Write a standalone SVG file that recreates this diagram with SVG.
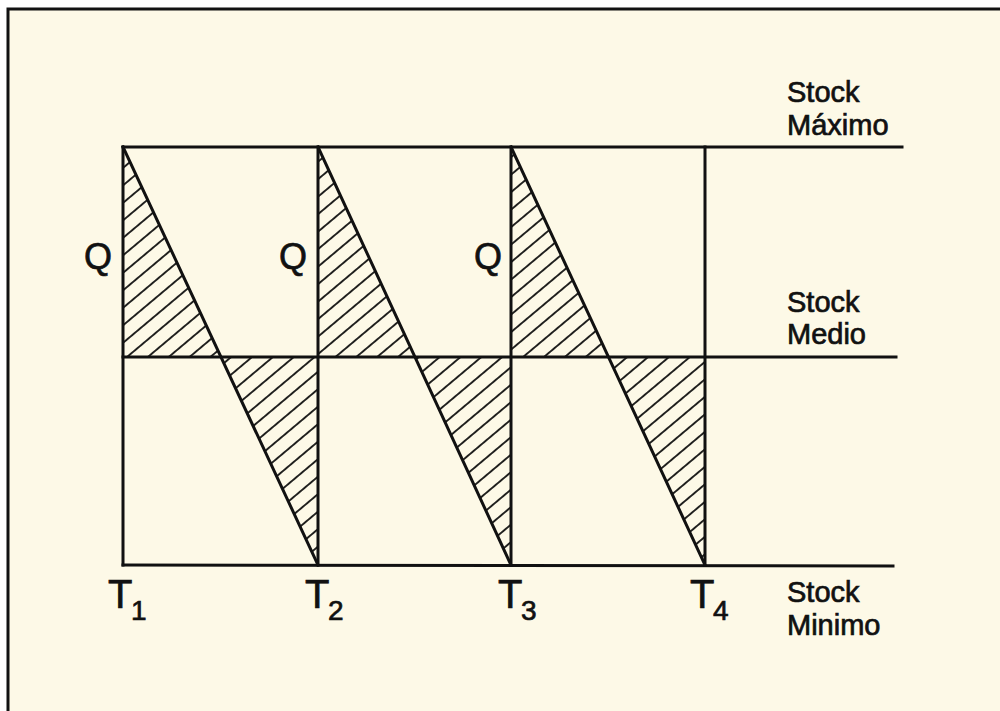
<svg xmlns="http://www.w3.org/2000/svg" width="1000" height="711" viewBox="0 0 1000 711">
<defs>
<pattern id="hatch" patternUnits="userSpaceOnUse" width="20" height="13.4" patternTransform="rotate(-40)">
<line x1="-2" y1="6.7" x2="22" y2="6.7" stroke="#111" stroke-width="1.8"/>
</pattern>
<style>
.ln{stroke:#111;stroke-width:3;fill:none;stroke-linecap:square}
.hz{fill:url(#hatch);stroke:none}
.lbl{font-family:"Liberation Sans",Arial,sans-serif;fill:#111;stroke:#111;stroke-width:0.7}
.side{font-size:29px}
.q{font-size:36px}
.t{font-size:40px}
.sub{font-size:28px}
</style>
</defs>
<rect x="0" y="0" width="1000" height="711" fill="#ffffff"/>
<rect x="8" y="9" width="1000" height="710" fill="#fdf9e7"/>
<path d="M8 711 V9 H1000" stroke="#111" stroke-width="3" fill="none"/>

<g id="hatches">
<polygon class="hz" points="123,147 123,357 221,357"/>
<polygon class="hz" points="221,357 318,357 318,565"/>
<polygon class="hz" points="318,147 318,357 416,357"/>
<polygon class="hz" points="416,357 511,357 511,565"/>
<polygon class="hz" points="511,147 511,357 609,357"/>
<polygon class="hz" points="609,357 705,357 705,565"/>
</g>

<g id="connectors">
<line class="ln" x1="123" y1="147" x2="902" y2="147"/>
<line class="ln" x1="123" y1="357" x2="896" y2="357"/>
<line class="ln" x1="123" y1="565" x2="893" y2="566"/>
<line class="ln" x1="123" y1="147" x2="123" y2="565"/>
<line class="ln" x1="318" y1="147" x2="318" y2="565"/>
<line class="ln" x1="511" y1="147" x2="511" y2="565"/>
<line class="ln" x1="705" y1="147" x2="705" y2="565"/>
<line class="ln" x1="123" y1="147" x2="318" y2="565"/>
<line class="ln" x1="318" y1="147" x2="511" y2="565"/>
<line class="ln" x1="511" y1="147" x2="705" y2="565"/>
</g>

<g id="label-max"><text class="lbl side" x="787" y="102">Stock</text><text class="lbl side" x="787" y="135">Máximo</text></g>
<g id="label-medio"><text class="lbl side" x="787" y="312">Stock</text><text class="lbl side" x="787" y="344">Medio</text></g>
<g id="label-min"><text class="lbl side" x="787" y="602">Stock</text><text class="lbl side" x="787" y="635">Minimo</text></g>

<g id="q1"><text class="lbl q" x="84" y="269">Q</text></g>
<g id="q2"><text class="lbl q" x="279" y="269">Q</text></g>
<g id="q3"><text class="lbl q" x="474" y="269">Q</text></g>

<g id="t1"><text class="lbl t" x="108" y="608">T</text><text class="lbl sub" x="131" y="620">1</text></g>
<g id="t2"><text class="lbl t" x="305" y="608">T</text><text class="lbl sub" x="328" y="620">2</text></g>
<g id="t3"><text class="lbl t" x="498" y="608">T</text><text class="lbl sub" x="521" y="620">3</text></g>
<g id="t4"><text class="lbl t" x="690" y="608">T</text><text class="lbl sub" x="713" y="620">4</text></g>
</svg>
